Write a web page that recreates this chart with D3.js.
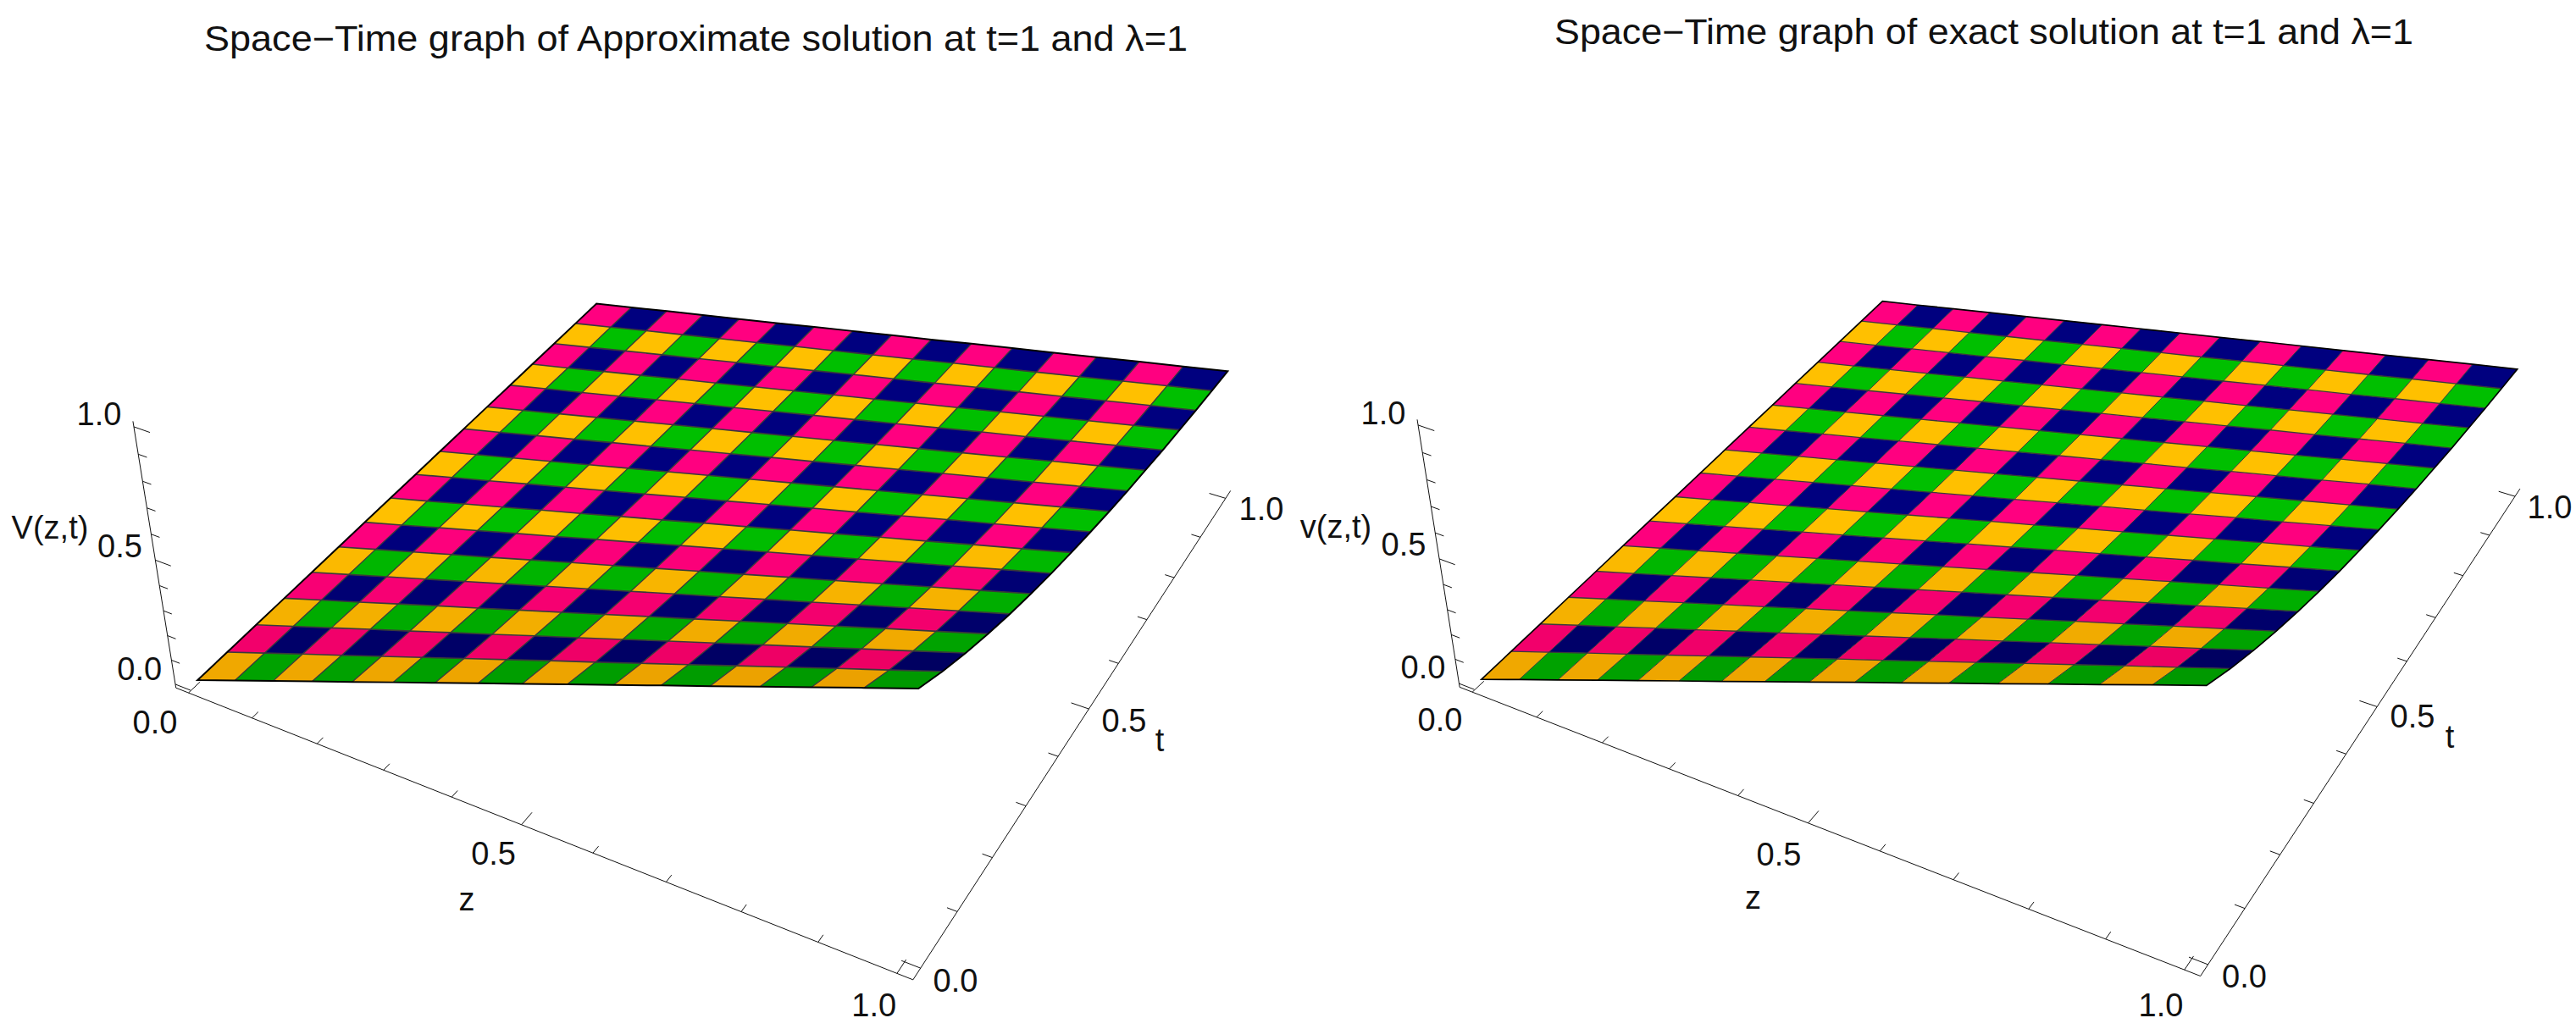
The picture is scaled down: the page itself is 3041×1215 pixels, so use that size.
<!DOCTYPE html>
<html><head><meta charset="utf-8"><script src="https://cdn.jsdelivr.net/npm/d3@7"></script>
<style>html,body{margin:0;background:#fff}svg{display:block}text{font-family:"Liberation Sans",Arial,sans-serif;fill:#111}</style></head><body>
<svg id="c" width="3041" height="1215"></svg>
<script>
// surface height: rows are t = 0 .. 1, columns are z = 0 .. 1
const surfaceV=[
[0,.063,.125,.188,.25,.313,.375,.438,.5,.563,.625,.688,.75,.813,.875,.938,1],
[0,.059,.118,.176,.235,.294,.353,.412,.471,.529,.588,.647,.706,.765,.824,.882,.941],
[0,.056,.111,.167,.222,.278,.333,.389,.444,.5,.556,.611,.667,.722,.778,.833,.889],
[0,.053,.105,.158,.211,.263,.316,.368,.421,.474,.526,.579,.632,.684,.737,.789,.842],
[0,.05,.1,.15,.2,.25,.3,.35,.4,.45,.5,.55,.6,.65,.7,.75,.8],
[0,.048,.095,.143,.19,.238,.286,.333,.381,.429,.476,.524,.571,.619,.667,.714,.762],
[0,.045,.091,.136,.182,.227,.273,.318,.364,.409,.455,.5,.545,.591,.636,.682,.727],
[0,.043,.087,.13,.174,.217,.261,.304,.348,.391,.435,.478,.522,.565,.609,.652,.696],
[0,.042,.083,.125,.167,.208,.25,.292,.333,.375,.417,.458,.5,.542,.583,.625,.667],
[0,.04,.08,.12,.16,.2,.24,.28,.32,.36,.4,.44,.48,.52,.56,.6,.64],
[0,.038,.077,.115,.154,.192,.231,.269,.308,.346,.385,.423,.462,.5,.538,.577,.615],
[0,.037,.074,.111,.148,.185,.222,.259,.296,.333,.37,.407,.444,.481,.519,.556,.593],
[0,.036,.071,.107,.143,.179,.214,.25,.286,.321,.357,.393,.429,.464,.5,.536,.571],
[0,.034,.069,.103,.138,.172,.207,.241,.276,.31,.345,.379,.414,.448,.483,.517,.552],
[0,.033,.067,.1,.133,.167,.2,.233,.267,.3,.333,.367,.4,.433,.467,.5,.533],
[0,.032,.065,.097,.129,.161,.194,.226,.258,.29,.323,.355,.387,.419,.452,.484,.516],
[0,.031,.063,.094,.125,.156,.188,.219,.25,.281,.313,.344,.375,.406,.438,.469,.5]];
const approxV=surfaceV, exactV=surfaceV;
const tickValues=d3.range(0,11).map(i=>i/10);
const labelledTicks=["0.0","0.5","1.0"];
const titles=["Space\u2212Time graph of Approximate solution at t=1 and \u03bb=1","Space\u2212Time graph of exact solution at t=1 and \u03bb=1"];
const vLabels=["V(z,t)","v(z,t)"];
const P=.02,Q=.015;
const panels=[
{title:titles[0],vLabel:vLabels[0],V:approxV,tx:[241,1402],ty:60,mesh:1.6,
 anchors:[[0,-P,-Q,222.7,818],[.5,-P,-Q,616,973],[1,-P,-Q,1059,1151],[1+P,0,-Q,1086,1142],[1+P,.5,-Q,1286,838],[1+P,1,-Q,1447,590],[-P,-P,0,206.5,807.5],[-P,-P,.5,183,665],[-P,-P,1,158,504],[0,0,0,233.3,801],[0,1,0,704.5,358],[1,0,1,1086,813],[1,1,.5,1449,438],[1,.25,.8,1190.7,724],[1,.5,.667,1288,627],[1,.75,.571,1372,531]],
 vL:[[164.7,790],[141.5,645],[117,489]],zL:[[183,853],[582.6,1008],[1031.7,1187]],tL:[[1128,1158],[1327,851],[1489,601]],
 vName:[59,623],zName:[551,1062],tName:[1369,874]},
{title:titles[1],vLabel:vLabels[1],V:exactV,tx:[1835,2849],ty:52,mesh:1.3,
 anchors:[[0,-P,-Q,1738.8,818],[.5,-P,-Q,2134.7,972],[1,-P,-Q,2578,1145],[1+P,0,-Q,2606,1139],[1+P,.5,-Q,2807,835.4],[1+P,1,-Q,2969.6,586.5],[-P,-P,0,1722,807],[-P,-P,.5,1698.6,662.4],[-P,-P,1,1674,501.8],[0,0,0,1749,799.4],[0,1,0,2222.5,355.4],[1,0,1,2606.5,809],[1,1,.5,2971,436],[1,.5,.667,2807.6,624]],
 vL:[[1680,787.5],[1657,642.7],[1633,488.4]],zL:[[1700,850],[2100,1008.5],[2551,1187]],tL:[[2649.5,1153],[2848,846],[3010,598.5]],
 vName:[1577,622],zName:[2069.5,1060],tName:[2892,870]}];
function fit(a){const n=11,A=[],b=[];for(const[x,y,z,u0,v0]of a){const u=u0/1000,v=v0/1000;
 A.push([x,y,z,1,0,0,0,0,-u*x,-u*y,-u*z]);b.push(u);A.push([0,0,0,0,x,y,z,1,-v*x,-v*y,-v*z]);b.push(v);}
 const M=d3.range(n).map(i=>d3.range(n+1).map(j=>j<n?d3.sum(A,r=>r[i]*r[j]):d3.sum(A,(r,k)=>r[i]*b[k])));
 for(let i=0;i<n;i++){let p=i;for(let k=i;k<n;k++)if(Math.abs(M[k][i])>Math.abs(M[p][i]))p=k;[M[i],M[p]]=[M[p],M[i]];
  for(let k=0;k<n;k++)if(k!==i){const f=M[k][i]/M[i][i];for(let j=i;j<=n;j++)M[k][j]-=f*M[i][j];}}
 return M.map((r,i)=>r[n]/r[i]);}
const topC={o:"#ffc000",g:"#00bf00",p:"#ff0080",n:"#00007f"},botC={o:"#e99e00",g:"#009600",p:"#e8005c",n:"#00005a"};
const svg=d3.select("#c"),line=d3.line();
const idx=d3.scaleLinear().domain([0,16]).range([0,1]);
const shade=d3.scaleLinear().domain([0,.5]).range([0,1]).clamp(true);
panels.forEach(p=>{const h=fit(p.anchors),V=p.V;
 const pr=(x,y,z)=>{const w=h[8]*x+h[9]*y+h[10]*z+1;return[1000*(h[0]*x+h[1]*y+h[2]*z+h[3])/w,1000*(h[4]*x+h[5]*y+h[6]*z+h[7])/w];};
 const vert=(a,b)=>pr(idx(a),idx(b),V[b][a]);
 const g=svg.append("g");
 const cells=d3.cross(d3.range(16),d3.range(16));
 const key=([i,j])=>j%2?(i%2?"n":"p"):(i%2?"g":"o");
 g.selectAll("path.cell").data(cells).join("path").attr("class","cell")
  .attr("d",([i,j])=>line([vert(i,j),vert(i+1,j),vert(i+1,j+1),vert(i,j+1)])+"Z")
  .attr("fill",c=>{const k=key(c),s=shade(idx(c[1]+.5)+.12*idx(16-c[0]));return d3.interpolateRgb(botC[k],topC[k])(s);})
  .attr("stroke",c=>topC[key(c)]).attr("stroke-width",.3);
 d3.range(1,16).forEach(j=>g.append("path").attr("d",line(d3.range(17).map(i=>vert(i,j)))).attr("fill","none").attr("stroke","#3a3a3a").attr("stroke-width",p.mesh));
 d3.range(1,16).forEach(i=>g.append("path").attr("d",line(d3.range(17).map(j=>vert(i,j)))).attr("fill","none").attr("stroke","#3a3a3a").attr("stroke-width",p.mesh-.3));
 const border=[...d3.range(17).map(i=>vert(i,0)),...d3.range(17).map(j=>vert(16,j)),...d3.range(16,-1,-1).map(i=>vert(i,16)),...d3.range(16,-1,-1).map(j=>vert(0,j))];
 g.append("path").attr("d",line(border)+"Z").attr("fill","none").attr("stroke","#000").attr("stroke-width",p.mesh+.4);
 // axes
 const ax=[[[-P,-P,-Q],[1+P,-P,-Q]],[[1+P,-P,-Q],[1+P,1+P,-Q]],[[-P,-P,-Q],[-P,-P,1+P]]];
 ax.forEach(l=>g.append("path").attr("d",line(l.map(a=>pr(...a)))).attr("stroke","#111").attr("stroke-width",1).attr("fill","none"));
 const tl=v=>Math.abs(v*2-Math.round(v*2))<1e-9?.024:.013;
 const tick=(a,b)=>g.append("path").attr("d",line([pr(...a),pr(...b)])).attr("stroke","#111").attr("stroke-width",1);
 tickValues.forEach(v=>{tick([v,-P,-Q],[v,-P+tl(v),-Q]);tick([1+P,v,-Q],[1+P-tl(v),v,-Q]);tick([-P,-P,v],[-P+tl(v),-P,v]);});
 const lab=(s,[x,y],fs=38)=>svg.append("text").attr("x",x).attr("y",y).attr("text-anchor","middle").attr("dominant-baseline","central").attr("font-size",fs).text(s);
 labelledTicks.forEach((s,i)=>{lab(s,p.vL[i]);lab(s,p.zL[i]);lab(s,p.tL[i]);});
 lab(p.vLabel,p.vName);lab("z",p.zName);lab("t",p.tName);
 svg.append("text").attr("x",p.tx[0]).attr("y",p.ty).attr("font-size",42).attr("textLength",p.tx[1]-p.tx[0]).attr("lengthAdjust","spacingAndGlyphs").text(p.title);
});
</script></body></html>
